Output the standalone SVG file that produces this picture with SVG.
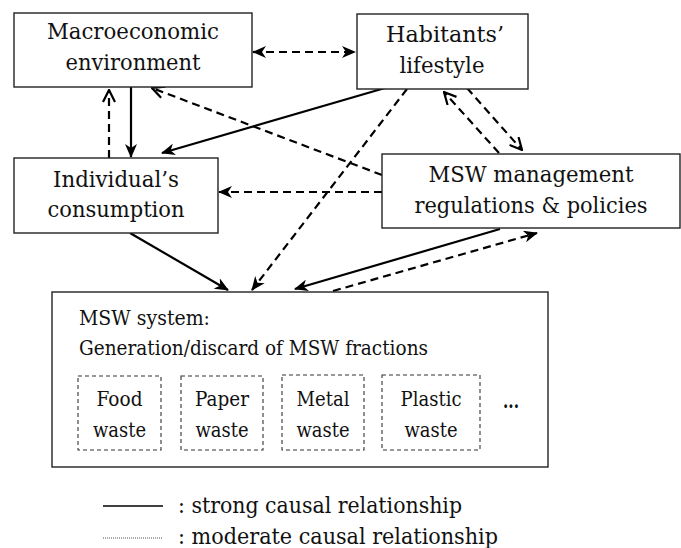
<svg xmlns="http://www.w3.org/2000/svg" width="681" height="548" viewBox="0 0 681 548">
<style>
.box{fill:#fff;stroke:#222;stroke-width:1.4}
.sub{fill:none;stroke:#333;stroke-width:1.1;stroke-dasharray:4,3}
text{font-family:'DejaVu Serif','Liberation Serif',serif;fill:#111}
.t{font-size:23px;text-anchor:middle}
.l{font-size:23px}
.s{font-size:20.5px}
.sc{text-anchor:middle}
.solid{fill:none;stroke:#000;stroke-width:2.2}
.dash{fill:none;stroke:#000;stroke-width:2.2;stroke-dasharray:8,5}
</style>
<defs>
<marker id="fa" viewBox="0 0 14 12" refX="13" refY="6" markerWidth="14" markerHeight="12" markerUnits="userSpaceOnUse" orient="auto-start-reverse">
<path d="M0,0 L14,6 L0,12 L4,6 z" fill="#000"/>
</marker>
<marker id="oa" viewBox="0 0 14 14" refX="13" refY="7" markerWidth="14" markerHeight="14" markerUnits="userSpaceOnUse" orient="auto-start-reverse">
<path d="M1,1 L13,7 L1,13" fill="none" stroke="#000" stroke-width="2.2"/>
</marker>
</defs>

<g id="connectors">
<line class="dash" x1="253" y1="52" x2="355" y2="52" marker-start="url(#fa)" marker-end="url(#fa)"/>
<line class="solid" x1="131" y1="87" x2="131" y2="157" marker-end="url(#fa)"/>
<line class="dash" x1="109" y1="158" x2="109" y2="90" marker-end="url(#oa)"/>
<line class="dash" x1="382" y1="175" x2="152" y2="88" marker-end="url(#oa)"/>
<line class="solid" x1="385" y1="88" x2="162" y2="153" marker-end="url(#fa)"/>
<line class="dash" x1="407" y1="89" x2="252" y2="290" marker-end="url(#fa)"/>
<line class="dash" x1="499" y1="153" x2="444" y2="92" marker-end="url(#oa)"/>
<line class="dash" x1="467" y1="88" x2="522" y2="150" marker-end="url(#oa)"/>
<line class="dash" x1="382" y1="192" x2="219" y2="192" marker-end="url(#fa)"/>
<line class="solid" x1="130" y1="233" x2="228" y2="290" marker-end="url(#fa)"/>
<line class="solid" x1="500" y1="229" x2="295" y2="289" marker-end="url(#fa)"/>
<line class="dash" x1="333" y1="291" x2="537" y2="233" marker-end="url(#fa)"/>
</g>

<g id="macro">
<rect class="box" x="14" y="13" width="238" height="74"/>
<text class="t" x="133" y="39" textLength="172" lengthAdjust="spacingAndGlyphs">Macroeconomic</text>
<text class="t" x="133" y="70" textLength="135" lengthAdjust="spacingAndGlyphs">environment</text>
</g>

<g id="habitants">
<rect class="box" x="357" y="14" width="171" height="75"/>
<text class="t" x="445" y="42" textLength="118" lengthAdjust="spacingAndGlyphs">Habitants’</text>
<text class="t" x="442" y="73" textLength="85" lengthAdjust="spacingAndGlyphs">lifestyle</text>
</g>

<g id="individual">
<rect class="box" x="14" y="158" width="204" height="75"/>
<text class="t" x="116" y="187" textLength="126" lengthAdjust="spacingAndGlyphs">Individual’s</text>
<text class="t" x="116" y="217" textLength="137" lengthAdjust="spacingAndGlyphs">consumption</text>
</g>

<g id="regulations">
<rect class="box" x="382" y="154" width="298" height="74"/>
<text class="t" x="531" y="182" textLength="205" lengthAdjust="spacingAndGlyphs">MSW management</text>
<text class="t" x="531" y="213" textLength="233" lengthAdjust="spacingAndGlyphs">regulations &amp; policies</text>
</g>

<g id="msw-system">
<rect class="box" x="52" y="292" width="496" height="175"/>
<text class="s" x="79" y="325" textLength="131" lengthAdjust="spacingAndGlyphs">MSW system:</text>
<text class="s" x="79" y="355" textLength="349" lengthAdjust="spacingAndGlyphs">Generation/discard of MSW fractions</text>
<g id="food">
<rect class="sub" x="78" y="376" width="83" height="74"/>
<text class="s sc" x="119.5" y="406" textLength="46" lengthAdjust="spacingAndGlyphs">Food</text>
<text class="s sc" x="119.5" y="437" textLength="53" lengthAdjust="spacingAndGlyphs">waste</text>
</g>
<g id="paper">
<rect class="sub" x="181" y="376" width="82" height="74"/>
<text class="s sc" x="222" y="406" textLength="54" lengthAdjust="spacingAndGlyphs">Paper</text>
<text class="s sc" x="222" y="437" textLength="53" lengthAdjust="spacingAndGlyphs">waste</text>
</g>
<g id="metal">
<rect class="sub" x="282" y="375" width="82" height="75"/>
<text class="s sc" x="323" y="406" textLength="53" lengthAdjust="spacingAndGlyphs">Metal</text>
<text class="s sc" x="323" y="437" textLength="53" lengthAdjust="spacingAndGlyphs">waste</text>
</g>
<g id="plastic">
<rect class="sub" x="382" y="375" width="98" height="75"/>
<text class="s sc" x="431" y="406" textLength="61" lengthAdjust="spacingAndGlyphs">Plastic</text>
<text class="s sc" x="431" y="437" textLength="53" lengthAdjust="spacingAndGlyphs">waste</text>
</g>
<text class="s" x="503" y="408" font-weight="bold" textLength="16" lengthAdjust="spacingAndGlyphs">...</text>
</g>

<g id="legend">
<line x1="103" y1="506" x2="163" y2="506" stroke="#000" stroke-width="1.3"/>
<text class="l" x="178" y="513" textLength="284" lengthAdjust="spacingAndGlyphs">: strong causal relationship</text>
<line x1="103" y1="538" x2="163" y2="538" stroke="#555" stroke-width="1" stroke-dasharray="1,1"/>
<text class="l" x="178" y="544" textLength="320" lengthAdjust="spacingAndGlyphs">: moderate causal relationship</text>
</g>
</svg>
